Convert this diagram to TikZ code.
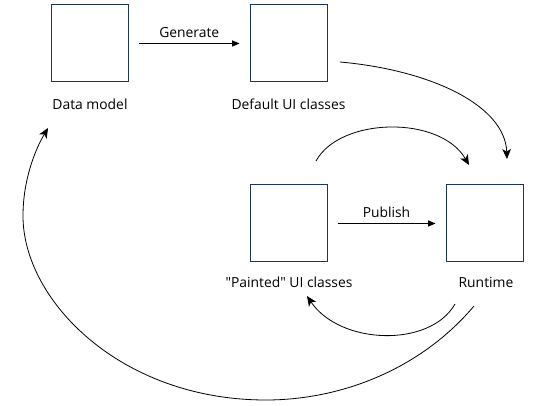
\documentclass[tikz,border=0pt]{standalone}
\usepackage{fontspec}
\setmainfont{Open Sans}[Ligatures=TeXOff]
\usetikzlibrary{arrows.meta}
\definecolor{boxline}{RGB}{31,56,82}
\begin{document}
\begin{tikzpicture}[x=0.75pt,y=-0.75pt,
  box/.style={draw=boxline,line width=0.75pt,minimum width=57.75pt,minimum height=57.75pt,inner sep=0pt},
  lbl/.style={font=\fontsize{10.4pt}{12pt}\selectfont,inner sep=0pt},
  straight/.style={line width=0.75pt,-{Triangle[length=5.5pt,width=4.5pt]},shorten <=7.5pt,shorten >=7.5pt},
  curved/.style={line width=0.6pt,-{Stealth[length=7.5pt,width=6.5pt,inset=2pt]}}]
\useasboundingbox (0,0) rectangle (536,406);
\node[box] (dm) at (90,43.5) {};
\node[box] (def) at (288.5,43.5) {};
\node[box] (pnt) at (288.5,223.5) {};
\node[box] (rt) at (484.5,223.5) {};
\node[lbl] (dml) at (90,104) {Data model};
\node[lbl] (defl) at (288.5,104) {Default UI classes};
\node[lbl] (pntl) at (289,282) {"Painted" UI classes};
\node[lbl] (rtl) at (486,282) {Runtime};
\draw[straight] (dm) -- (def) node[lbl,midway,above=4pt] (gen) {Generate};
\draw[straight] (pnt) -- (rt) node[lbl,midway,above=4pt] (pub) {Publish};
\coordinate (c1s) at (340,62);
\coordinate (c1e) at (507,159);
\coordinate (c2s) at (316,161);
\coordinate (c2e) at (469,165);
\coordinate (c3s) at (455,304);
\coordinate (c3e) at (307,296);
\coordinate (c4s) at (474,306);
\coordinate (c4e) at (48,128);
\draw[curved] (c1s) .. controls (430,70) and (505,105) .. (c1e);
\draw[curved] (c2s) .. controls (340,117) and (440,115) .. (c2e);
\draw[curved] (c3s) .. controls (430,348) and (340,345) .. (c3e);
\draw[curved] (c4s) .. controls (420,370) and (340,400) .. (266,400)
  .. controls (120,400) and (23,300) .. (23,216)
  .. controls (23,180) and (35,150) .. (c4e);
\end{tikzpicture}
\end{document}
